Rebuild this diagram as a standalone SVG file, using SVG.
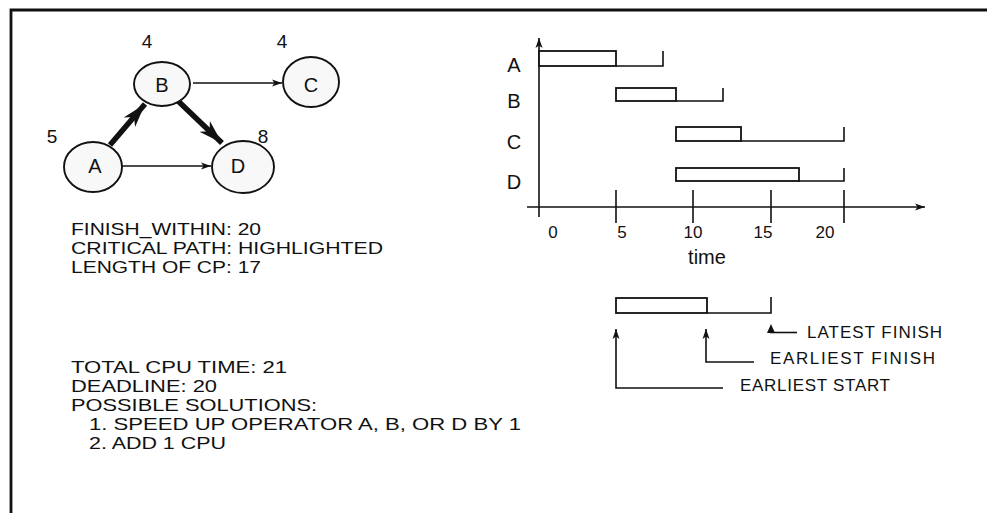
<svg xmlns="http://www.w3.org/2000/svg" width="987" height="513" viewBox="0 0 987 513">
<style>
text{font-family:"Liberation Sans",Arial,sans-serif;fill:#111}
.node ellipse{fill:#f8f8f8;stroke:#111;stroke-width:1.9}
.lbl{font-size:20px;text-anchor:middle}
.num{font-size:19px;text-anchor:middle}
.body{font-size:17px}
.ln{fill:none;stroke:#111;stroke-width:1.6}
.thin{fill:none;stroke:#111;stroke-width:1.4}
.thick{fill:none;stroke:#111;stroke-width:5.5}
.bar{fill:#fff;stroke:#111;stroke-width:1.8}
.leg{font-size:17px}
</style>
<defs>
<marker id="ah" markerUnits="userSpaceOnUse" markerWidth="12" markerHeight="8" refX="10" refY="4" orient="auto"><path d="M0,0.5 L10,4 L0,7.5 L2.5,4 Z" fill="#111"/></marker>
<marker id="ahb" markerUnits="userSpaceOnUse" markerWidth="26" markerHeight="18" refX="24" refY="9" orient="auto"><path d="M0,1.5 L24,9 L0,16.5 L7,9 Z" fill="#111"/></marker>
</defs>
<g id="frame"><path d="M11,513 V10 H987" fill="none" stroke="#111" stroke-width="2.8"/></g>

<g id="connectors">
<line x1="193" y1="83" x2="282" y2="83" class="thin" marker-end="url(#ah)"/>
<line x1="122" y1="166" x2="211" y2="166" class="thin" marker-end="url(#ah)"/>
<line x1="110" y1="145" x2="145" y2="104" class="thick" marker-end="url(#ahb)"/>
<line x1="177" y1="100" x2="222" y2="143" class="thick" marker-end="url(#ahb)"/>
</g>

<g id="node-A" class="node"><ellipse cx="93" cy="167" rx="29" ry="25"/><text class="lbl" x="95" y="173">A</text><text class="num" x="52" y="143">5</text></g>
<g id="node-B" class="node"><ellipse cx="162" cy="84" rx="28" ry="22"/><text class="lbl" x="162" y="92">B</text><text class="num" x="147" y="48">4</text></g>
<g id="node-C" class="node"><ellipse cx="311" cy="82" rx="28" ry="25"/><text class="lbl" x="311" y="92">C</text><text class="num" x="282" y="48">4</text></g>
<g id="node-D" class="node"><ellipse cx="243" cy="167" rx="31" ry="26"/><text class="lbl" x="238" y="173">D</text><text class="num" x="263" y="143">8</text></g>

<g id="info-top" class="body">
<text x="71" y="235" textLength="190" lengthAdjust="spacingAndGlyphs">FINISH_WITHIN: 20</text>
<text x="71" y="254" textLength="312" lengthAdjust="spacingAndGlyphs">CRITICAL PATH: HIGHLIGHTED</text>
<text x="71" y="273" textLength="190" lengthAdjust="spacingAndGlyphs">LENGTH OF CP: 17</text>
</g>
<g id="info-bottom" class="body">
<text x="71" y="373" textLength="216" lengthAdjust="spacingAndGlyphs">TOTAL CPU TIME: 21</text>
<text x="71" y="392" textLength="146" lengthAdjust="spacingAndGlyphs">DEADLINE: 20</text>
<text x="71" y="411" textLength="246" lengthAdjust="spacingAndGlyphs">POSSIBLE SOLUTIONS:</text>
<text x="89" y="430" textLength="432" lengthAdjust="spacingAndGlyphs">1. SPEED UP OPERATOR A, B, OR D BY 1</text>
<text x="89" y="449" textLength="137" lengthAdjust="spacingAndGlyphs">2. ADD 1 CPU</text>
</g>

<g id="gantt">
<line x1="539" y1="217" x2="539" y2="38" class="ln" marker-end="url(#ah)"/>
<line x1="527" y1="207" x2="925" y2="207" class="ln" marker-end="url(#ah)"/>
<g class="ln">
<line x1="616" y1="190" x2="616" y2="223"/>
<line x1="693" y1="190" x2="693" y2="223"/>
<line x1="771" y1="190" x2="771" y2="223"/>
<line x1="844" y1="190" x2="844" y2="223"/>
</g>
<g font-size="17" text-anchor="middle">
<text x="553" y="238">0</text><text x="622" y="238">5</text><text x="693" y="238">10</text><text x="763" y="238">15</text><text x="825" y="238">20</text>
</g>
<text x="707" y="264" font-size="20" text-anchor="middle">time</text>
<g font-size="20" text-anchor="middle">
<text x="514" y="72">A</text><text x="514" y="108">B</text><text x="514" y="149">C</text><text x="514" y="189">D</text>
</g>
<rect class="bar" x="539" y="51" width="77" height="15"/>
<path class="ln" d="M616,66 H663 V51"/>
<rect class="bar" x="616" y="88" width="60" height="13"/>
<path class="ln" d="M676,101 H723 V88"/>
<rect class="bar" x="676" y="127" width="65" height="14"/>
<path class="ln" d="M741,141 H844 V127"/>
<rect class="bar" x="676" y="168" width="123" height="13"/>
<path class="ln" d="M799,181 H844 V168"/>
</g>

<g id="legend">
<rect class="bar" x="616" y="298" width="91" height="15"/>
<path class="ln" d="M707,313 H771 V297"/>
<path class="ln" d="M723,388 H616 V329" marker-end="url(#ah)"/>
<path class="ln" d="M754,362 H706 V329" marker-end="url(#ah)"/>
<line class="ln" x1="770" y1="332.5" x2="797" y2="332.5"/>
<path d="M771,324 L775,333 L767,333 Z" fill="#111"/>
<text class="leg" x="807" y="338" textLength="135" lengthAdjust="spacing">LATEST  FINISH</text>
<text class="leg" x="770" y="364" textLength="165" lengthAdjust="spacing">EARLIEST  FINISH</text>
<text class="leg" x="740" y="391" textLength="150" lengthAdjust="spacing">EARLIEST START</text>
</g>
</svg>
